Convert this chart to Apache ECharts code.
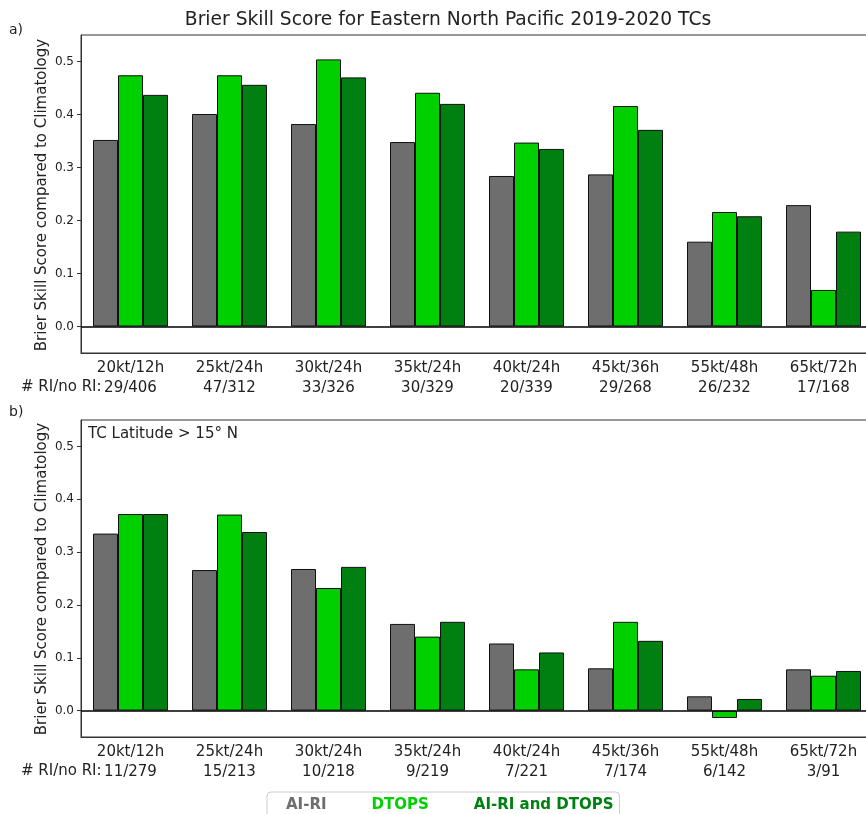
<!DOCTYPE html>
<html>
<head>
<meta charset="utf-8">
<script src="https://cdn.jsdelivr.net/npm/echarts@6/dist/echarts.min.js"></script>
<style>
  html, body { margin: 0; padding: 0; background: #fff; }
  #chart { width: 866px; height: 814px; }
</style>
</head>
<body>
<div id="chart"></div>
<script>
// Thresholds (intensity change / time window)
const thresholds = ['20kt/12h', '25kt/24h', '30kt/24h', '35kt/24h', '40kt/24h', '45kt/36h', '55kt/48h', '65kt/72h'];

// Sample counts (# RI / no RI) for each threshold
const countsAll = ['29/406', '47/312', '33/326', '30/329', '20/339', '29/268', '26/232', '17/168'];
const countsNorth = ['11/279', '15/213', '10/218', '9/219', '7/221', '7/174', '6/142', '3/91'];

// Brier skill scores, all TCs
const airiAll  = [0.352, 0.401, 0.382, 0.348, 0.284, 0.287, 0.160, 0.229];
const dtopsAll = [0.474, 0.474, 0.504, 0.441, 0.347, 0.416, 0.216, 0.069];
const combAll  = [0.437, 0.456, 0.470, 0.420, 0.335, 0.371, 0.208, 0.179];

// Brier skill scores, TC latitude > 15N
const airiNorth  = [0.335, 0.266, 0.268, 0.164, 0.127, 0.080, 0.027, 0.078];
const dtopsNorth = [0.372, 0.371, 0.232, 0.140, 0.078, 0.168, -0.014, 0.066];
const combNorth  = [0.372, 0.338, 0.272, 0.168, 0.110, 0.132, 0.022, 0.075];

const yTicks = [0.0, 0.1, 0.2, 0.3, 0.4, 0.5];
const yTitle = 'Brier Skill Score compared to Climatology';

const COLORS = { airi: '#6e6e6e', dtops: '#00d000', comb: '#008010' };
const FONT = 'DejaVu Sans';

function xAxisFor(gridIndex, counts) {
  return {
    type: 'category',
    gridIndex,
    data: thresholds.map((t, i) => t + '\n' + counts[i]),
    axisLine: { onZero: false, lineStyle: { color: '#333', width: 1 } },
    axisTick: { alignWithLabel: true, length: 4, lineStyle: { color: '#333' } },
    axisLabel: { color: '#222', fontFamily: FONT, fontSize: 15, lineHeight: 20, margin: 5, interval: 0 },
    splitLine: { show: false }
  };
}

function yAxisFor(gridIndex) {
  return {
    type: 'value',
    gridIndex,
    min: -0.05,
    max: 0.55,
    axisLine: { show: true, lineStyle: { color: '#333', width: 1 } },
    axisTick: { show: true, length: 4, customValues: yTicks, lineStyle: { color: '#333' } },
    axisLabel: {
      color: '#222', fontFamily: FONT, fontSize: 12, margin: 7,
      customValues: yTicks,
      formatter: v => v.toFixed(1)
    },
    splitLine: { show: false }
  };
}

function barSeries(name, data, color, idx, withZero) {
  const s = {
    name,
    type: 'bar',
    xAxisIndex: idx,
    yAxisIndex: idx,
    data,
    barWidth: 25,
    barGap: '0%',
    itemStyle: { color, borderColor: '#111', borderWidth: 1 },
    emphasis: { disabled: true }
  };
  if (withZero) {
    s.markLine = {
      silent: true,
      symbol: 'none',
      label: { show: false },
      lineStyle: { color: '#000', width: 1.5, type: 'solid' },
      data: [{ yAxis: 0 }]
    };
  }
  return s;
}

function sideTitle(cy) {
  return {
    type: 'text', x: 42, y: cy, rotation: Math.PI / 2,
    style: { text: yTitle, fontFamily: FONT, fontSize: 15, fill: '#222', align: 'center', verticalAlign: 'middle' }
  };
}

const chart = echarts.init(document.getElementById('chart'), null, { renderer: 'canvas' });

const gridBase = {
  left: 81, width: 792, show: true, borderColor: '#333', borderWidth: 1,
  backgroundColor: 'transparent', outerBoundsMode: 'none', containLabel: false
};

chart.setOption({
  animation: false,
  backgroundColor: '#fff',
  title: {
    text: 'Brier Skill Score for Eastern North Pacific 2019-2020 TCs',
    left: 443,
    top: 6,
    textAlign: 'center',
    textStyle: { fontFamily: FONT, fontSize: 18.7, fontWeight: 'normal', color: '#222' }
  },
  grid: [
    Object.assign({ top: 35, height: 318 }, gridBase),
    Object.assign({ top: 420, height: 317 }, gridBase)
  ],
  xAxis: [xAxisFor(0, countsAll), xAxisFor(1, countsNorth)],
  yAxis: [yAxisFor(0), yAxisFor(1)],
  legend: {
    left: 267,
    top: 792,
    icon: 'none',
    itemWidth: 0,
    itemHeight: 14,
    itemGap: 40,
    padding: [6, 6, 6, 14],
    borderColor: '#cccccc',
    borderWidth: 1,
    borderRadius: 4,
    selectedMode: false,
    textStyle: { fontFamily: FONT, fontSize: 15, fontWeight: 'bold' },
    data: [
      { name: 'AI-RI', textStyle: { color: COLORS.airi } },
      { name: 'DTOPS', textStyle: { color: COLORS.dtops } },
      { name: 'AI-RI and DTOPS', textStyle: { color: COLORS.comb } }
    ]
  },
  graphic: [
    sideTitle(195),
    sideTitle(579),
    { type: 'text', left: 9, top: 23, style: { text: 'a)', fontFamily: FONT, fontSize: 14, fill: '#222' } },
    { type: 'text', left: 9, top: 405, style: { text: 'b)', fontFamily: FONT, fontSize: 14, fill: '#222' } },
    { type: 'text', left: 21, top: 380, style: { text: '# RI/no RI:', fontFamily: FONT, fontSize: 15, fill: '#222' } },
    { type: 'text', left: 21, top: 764, style: { text: '# RI/no RI:', fontFamily: FONT, fontSize: 15, fill: '#222' } },
    { type: 'text', left: 88, top: 427, style: { text: 'TC Latitude > 15° N', fontFamily: FONT, fontSize: 15, fill: '#222' } }
  ],
  series: [
    barSeries('AI-RI', airiAll, COLORS.airi, 0, true),
    barSeries('DTOPS', dtopsAll, COLORS.dtops, 0, false),
    barSeries('AI-RI and DTOPS', combAll, COLORS.comb, 0, false),
    barSeries('AI-RI', airiNorth, COLORS.airi, 1, true),
    barSeries('DTOPS', dtopsNorth, COLORS.dtops, 1, false),
    barSeries('AI-RI and DTOPS', combNorth, COLORS.comb, 1, false)
  ]
});
</script>
</body>
</html>
